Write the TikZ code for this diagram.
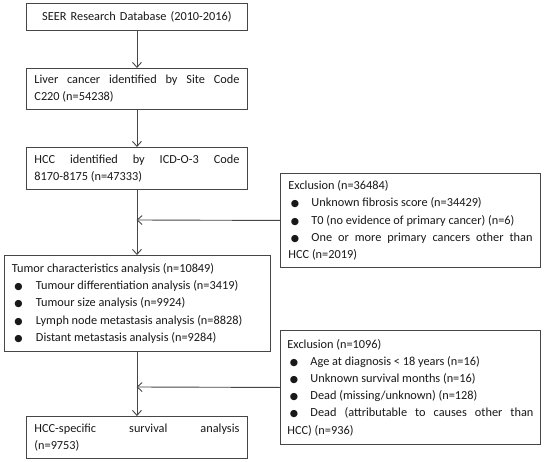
\documentclass[tikz,border=0pt]{standalone}
\usepackage{fontspec}
\setmainfont{Carlito}
\newfontfamily\dejavu{DejaVu Sans}
\usetikzlibrary{arrows.meta}
\newcommand{\blt}{{\dejavu\fontsize{9.5}{9.5}\selectfont ●}}
\newcommand{\bitem}[2][23pt]{\par\noindent\hangindent=#1\hangafter=1\makebox[#1][l]{\hspace{2.5pt}\blt}#2}
\definecolor{linec}{RGB}{70,70,70}
\definecolor{textc}{RGB}{25,25,25}
\hyphenpenalty=10000
\exhyphenpenalty=10000
\begin{document}
\begin{tikzpicture}[x=1pt,y=-1pt,
  box/.style={draw=linec, line width=0.9pt, rectangle, anchor=north west, inner xsep=0pt, inner ysep=0pt,
    align=justify, text=textc, font=\fontsize{12.3}{17.2}\selectfont},
  arr/.style={draw=linec, line width=0.9pt, -{Straight Barb[length=5pt,width=9pt]}}]
\useasboundingbox (0,0) rectangle (545,462);
\fill[white] (0,0) rectangle (545,462);
\node[box, minimum width=221pt, minimum height=27pt, text width=205pt, align=center] (b1) at (26,3)
  {SEER Research Database (2010-2016)};
\node[box, minimum width=221pt, minimum height=41pt, text width=205pt] (b2) at (26,68)
  {Liver cancer identified by Site Code\linebreak C220 (n=54238)};
\node[box, minimum width=221pt, minimum height=42pt, text width=205pt] (b3) at (26,147)
  {HCC identified by ICD-O-3 Code\linebreak 8170-8175 (n=47333)};
\node[box, minimum width=260pt, minimum height=94pt, text width=244pt] (e1) at (280,173)
  {\noindent Exclusion (n=36484)
   \bitem{Unknown fibrosis score (n=34429)}
   \bitem{T0 (no evidence of primary cancer) (n=6)}
   \bitem{One or more primary cancers other than\linebreak HCC (n=2019)}};
\node[box, minimum width=266pt, minimum height=96pt, text width=250pt] (b4) at (3.5,255)
  {\noindent Tumor characteristics analysis (n=10849)
   \bitem[24pt]{Tumour differentiation analysis (n=3419)}
   \bitem[24pt]{Tumour size analysis (n=9924)}
   \bitem[24pt]{Lymph node metastasis analysis (n=8828)}
   \bitem[24pt]{Distant metastasis analysis (n=9284)}};
\node[box, minimum width=260pt, minimum height=114pt, text width=246pt] (e2) at (280,330)
  {\noindent Exclusion (n=1096)
   \bitem{Age at diagnosis < 18 years (n=16)}
   \bitem{Unknown survival months (n=16)}
   \bitem{Dead (missing/unknown) (n=128)}
   \bitem{Dead (attributable to causes other than\linebreak HCC) (n=936)}};
\node[box, minimum width=221pt, minimum height=42pt, text width=205pt] (b5) at (26,416)
  {HCC-specific survival analysis\linebreak (n=9753)};
\coordinate (j1) at (136.5,220);
\coordinate (j2) at (136.5,387);
\draw[arr] (b1.south) -- (b2.north);
\draw[arr] (b2.south) -- (b3.north);
\draw[arr] (b3.south) -- (b4.north);
\draw[arr] (e1.west) -- (j1);
\draw[arr] (b4.south) -- (b5.north);
\draw[arr] (e2.west) -- (j2);
\end{tikzpicture}
\end{document}
